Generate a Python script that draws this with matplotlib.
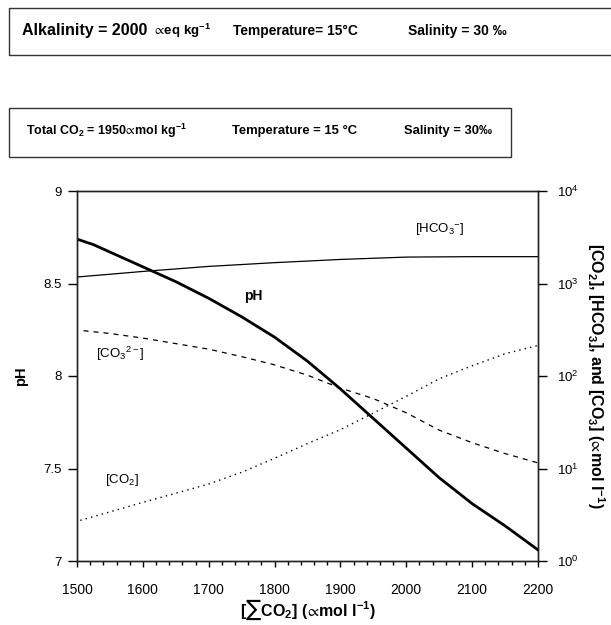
import matplotlib
matplotlib.use("Agg")
import matplotlib.pyplot as plt
from matplotlib.patches import Rectangle
from matplotlib.ticker import MultipleLocator, FixedLocator

plt.rcParams['font.family'] = ['Liberation Sans', 'DejaVu Sans']
plt.rcParams['mathtext.default'] = 'regular'

# total CO2 (umol/l) against pH and the carbonate species
tco2_ph = [1500, 1525, 1550, 1575, 1600, 1650, 1700, 1750, 1800, 1850,
           1900, 1950, 2000, 2050, 2100, 2150, 2200]
ph = [8.74, 8.71, 8.67, 8.63, 8.59, 8.51, 8.42, 8.32, 8.21, 8.08,
      7.93, 7.77, 7.61, 7.45, 7.31, 7.19, 7.06]

tco2_hco3 = [1500, 1600, 1700, 1800, 1900, 2000, 2100, 2200]
hco3 = [1175, 1350, 1530, 1680, 1820, 1930, 1950, 1950]

tco2_co3 = [1510, 1550, 1600, 1650, 1700, 1750, 1800, 1850, 1900, 1950,
            2000, 2050, 2100, 2150, 2200]
co3 = [309, 288, 257, 224, 195, 162, 132, 102, 74, 57,
       40, 26, 19, 14.5, 11.5]

tco2_co2 = [1505, 1550, 1600, 1650, 1700, 1750, 1800, 1850, 1900, 1950,
            2000, 2050, 2100, 2150, 2200]
co2 = [2.75, 3.4, 4.3, 5.4, 6.8, 9.1, 12.9, 18.6, 26.3, 39.8,
       60.3, 93.3, 129, 174, 214]

PROP = r'$\!\propto\!$'   # "proportional to" sign, used as the micro prefix

fig = plt.figure(figsize=(6.11, 6.25), dpi=100)
W, H = 611, 625

# header boxes with the water conditions
fig.patches.append(Rectangle((9 / W, 1 - 55 / H), 610 / W, 47 / H,
                             transform=fig.transFigure, fill=False,
                             lw=1, ec='#333333'))
fig.patches.append(Rectangle((9 / W, 1 - 157 / H), 502 / W, 49 / H,
                             transform=fig.transFigure, fill=False,
                             lw=1, ec='#333333'))

fig.text(22 / W, 1 - 31 / H, 'Alkalinity = 2000',
         fontsize=11.5, fontweight='bold', va='center')
fig.text(154 / W, 1 - 31 / H, PROP + 'eq kg$^{-1}$',
         fontsize=9.5, fontweight='bold', va='center')
fig.text(233 / W, 1 - 31 / H, 'Temperature= 15°C',
         fontsize=9.9, fontweight='bold', va='center')
fig.text(408 / W, 1 - 31 / H, 'Salinity = 30 ‰',
         fontsize=10, fontweight='bold', va='center')

fig.text(26 / W, 1 - 131 / H, 'Total CO$_2$ = 1950' + PROP + 'mol kg$^{-1}$',
         fontsize=9, fontweight='bold', va='center')
fig.text(232 / W, 1 - 131 / H, 'Temperature = 15 °C',
         fontsize=9.4, fontweight='bold', va='center')
fig.text(404 / W, 1 - 131 / H, 'Salinity = 30‰',
         fontsize=9.4, fontweight='bold', va='center')

ax = fig.add_axes([77 / W, 1 - 561 / H, 461 / W, 370 / H])
ax2 = ax.twinx()

ax.plot(tco2_ph, ph, color='black', lw=2.0, zorder=5)
ax2.plot(tco2_hco3, hco3, color='black', lw=0.9)
ax2.plot(tco2_co3, co3, color='black', lw=0.9, ls=(0, (4, 4)))
ax2.plot(tco2_co2, co2, color='black', lw=1.0, ls=(0, (1, 3)))

ax.set_xlim(1500, 2200)
ax.set_ylim(7, 9)
ax2.set_yscale('log')
ax2.set_ylim(1, 1e4)

ax.xaxis.set_major_locator(MultipleLocator(100))
ax.xaxis.set_minor_locator(MultipleLocator(20))
ax.yaxis.set_major_locator(FixedLocator([7, 7.5, 8, 8.5, 9]))
ax.set_yticklabels(['7', '7.5', '8', '8.5', '9'])
ax.tick_params(axis='x', which='major', direction='out', length=4.5,
               width=1, labelsize=10, pad=11)
ax.tick_params(axis='x', which='minor', direction='out', length=3, width=1)
ax.tick_params(axis='y', direction='out', length=6.5, width=1,
               labelsize=9.5, pad=4.5)

ax2.yaxis.set_major_locator(FixedLocator([1, 10, 100, 1000, 10000]))
ax2.yaxis.set_minor_locator(FixedLocator([]))
ax2.set_yticklabels(['$10^0$', '$10^1$', '$10^2$', '$10^3$', '$10^4$'])
ax2.tick_params(axis='y', direction='out', length=6.5, width=1,
                labelsize=9.5, pad=7)

for a in (ax, ax2):
    for s in a.spines.values():
        s.set_linewidth(1)
        s.set_color('#222222')

ax.set_ylabel('pH', fontsize=10.5, fontweight='bold', labelpad=11)
ax.set_xlabel('[∑CO$_2$] (' + PROP + 'mol l$^{-1}$)', fontsize=11.5,
              fontweight='bold', labelpad=1)
ax2.set_ylabel('[CO$_2$], [HCO$_3$], and [CO$_3$] (' + PROP + 'mol l$^{-1}$)',
               fontsize=11.5, fontweight='bold', rotation=-90, labelpad=20)

# curve labels
ax2.text(2051, 3890, '[HCO$_3$$^{-}$]', fontsize=9.5,
         ha='center', va='center')
ax.text(1767, 8.43, 'pH', fontsize=10, fontweight='bold',
        ha='center', va='center')
ax2.text(1565, 172, '[CO$_3$$^{2-}$]', fontsize=9.5,
         ha='center', va='center')
ax2.text(1568, 7.5, '[CO$_2$]', fontsize=9.5, ha='center', va='center')

fig.savefig('out.png', dpi=100)
